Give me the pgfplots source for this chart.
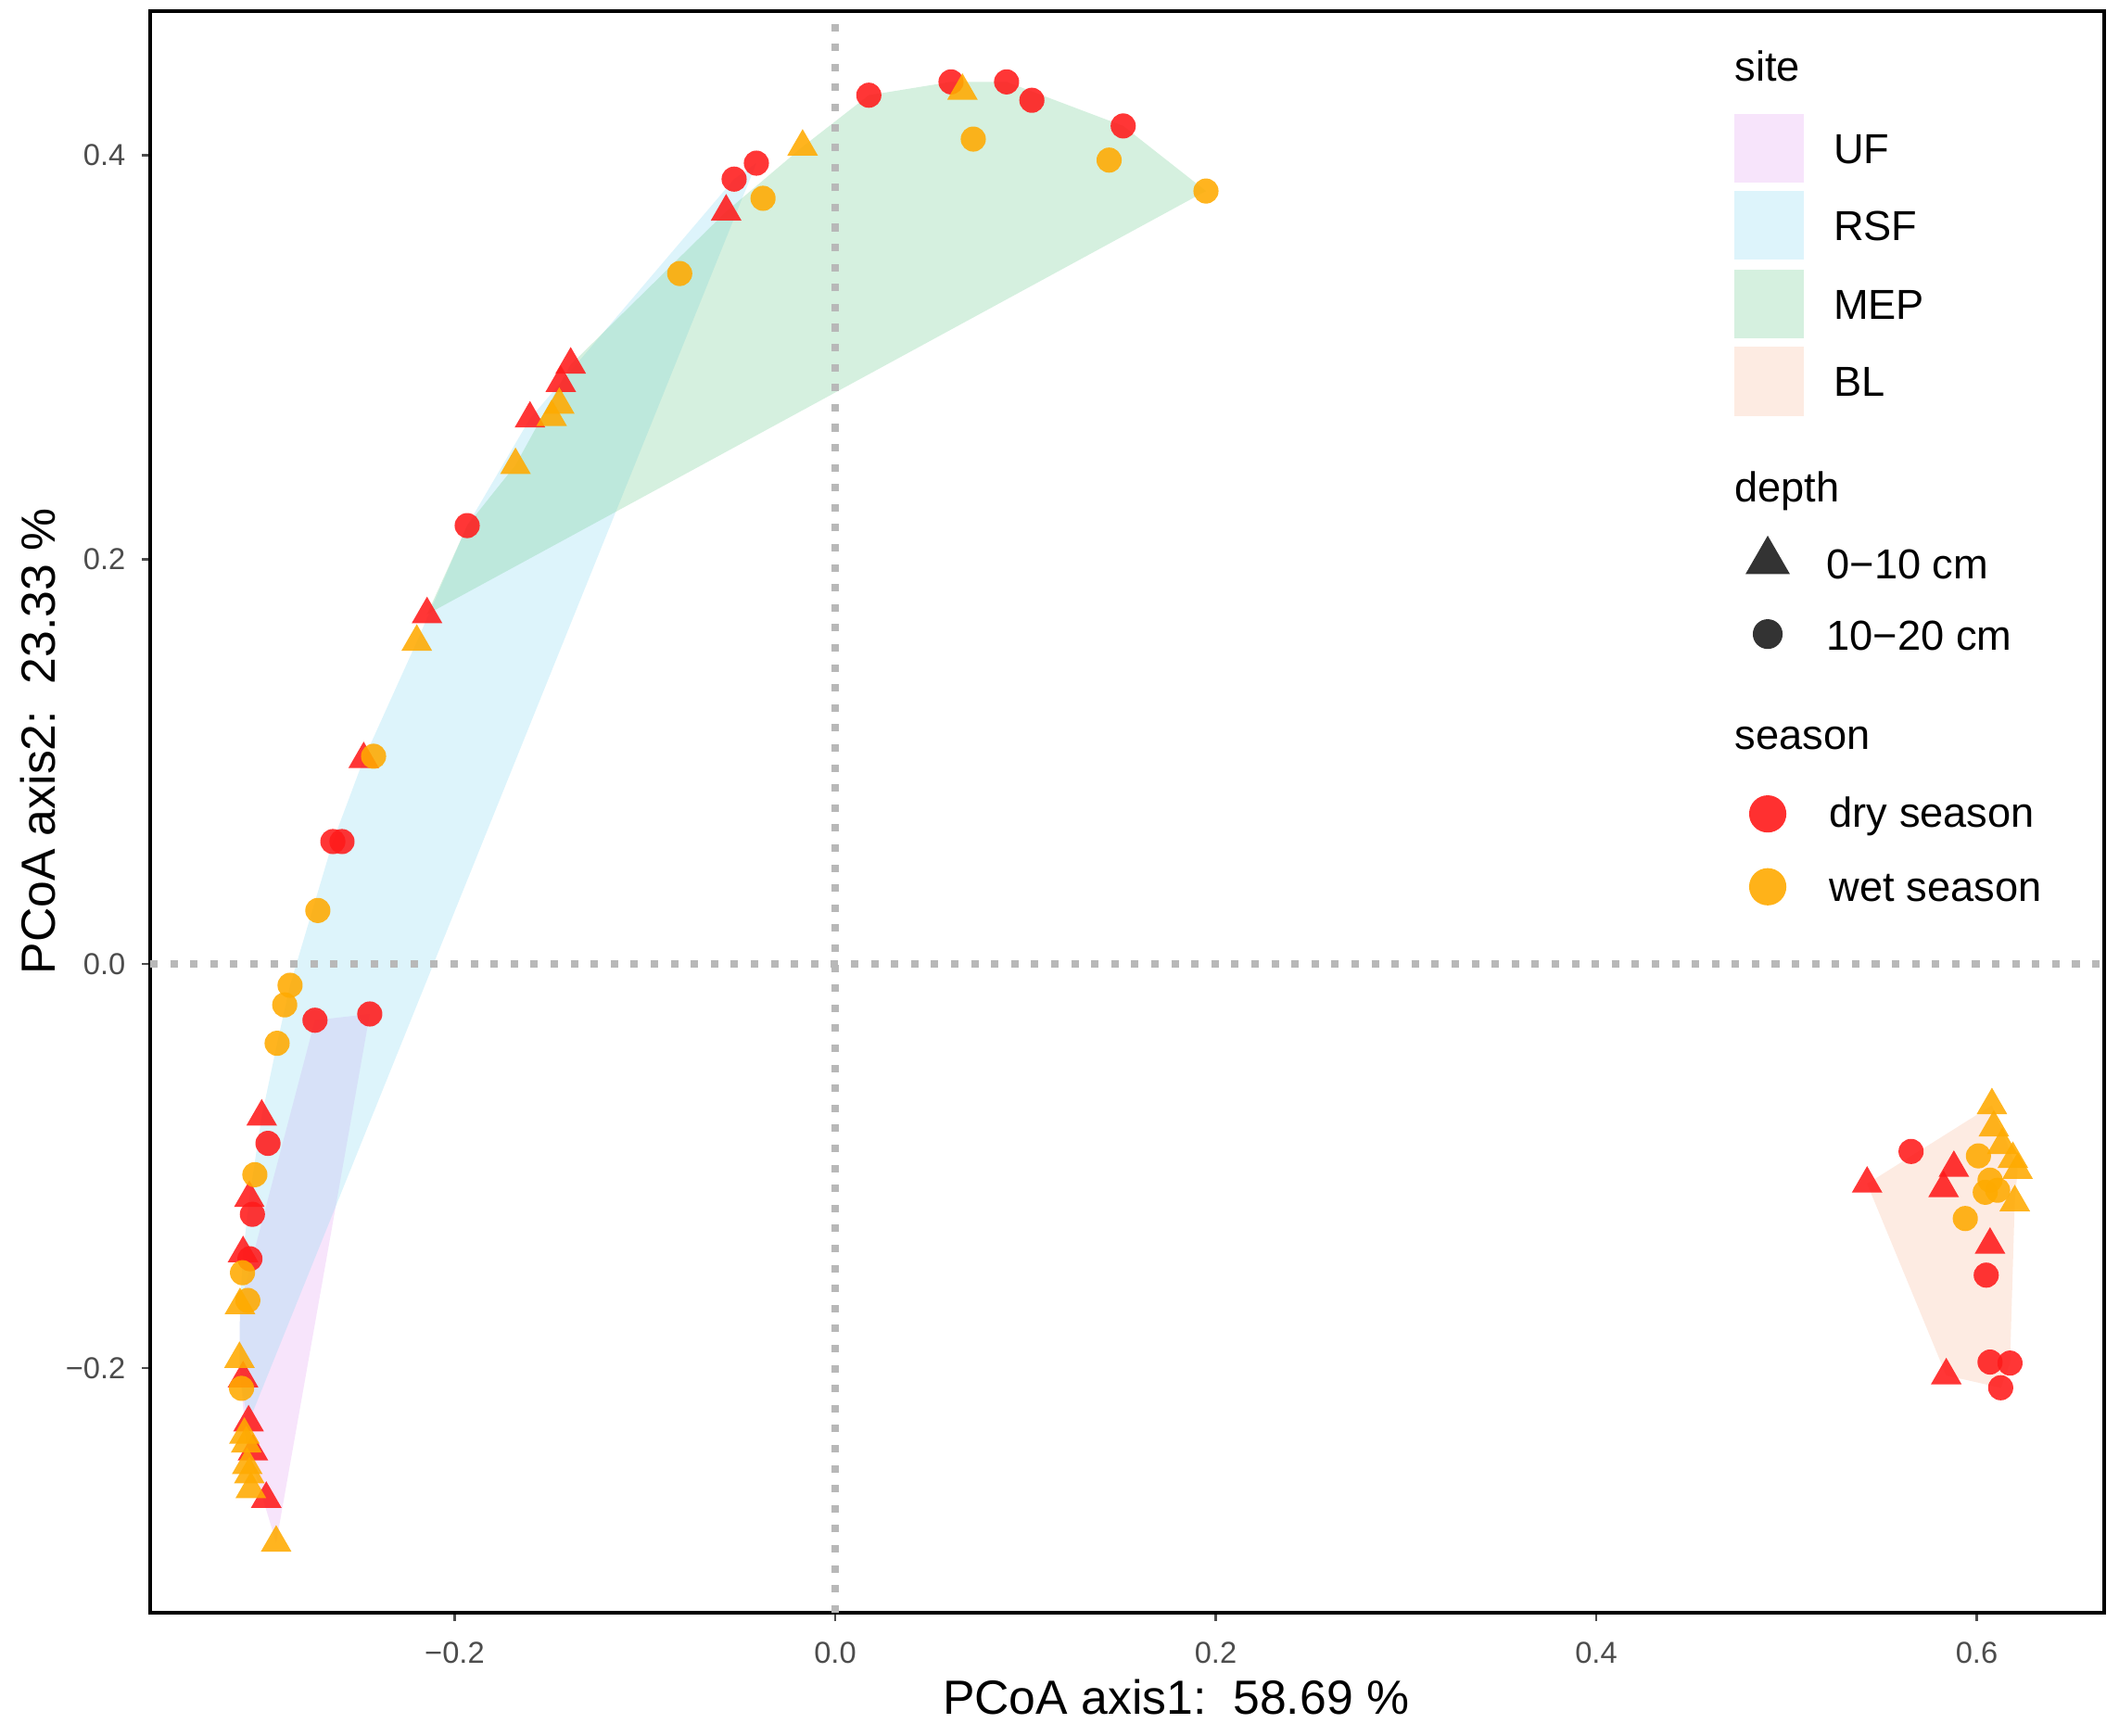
\documentclass[border=0pt]{standalone}
\usepackage{pgfplots}
\usepackage{pgfplotstable}
\pgfplotsset{compat=1.18}
\usepackage{fontspec}
\setmainfont{Liberation Sans}
\definecolor{ufc}{HTML}{E4A5F2}
\definecolor{rsfc}{HTML}{8EDAF2}
\definecolor{mepc}{HTML}{73CD94}
\definecolor{blc}{HTML}{F8BC9E}
\definecolor{dryc}{HTML}{FF1A1A}
\definecolor{wetc}{HTML}{FFAA00}
\definecolor{keyc}{HTML}{333333}

% ---- hulls ----
\pgfplotstableread{
x y
-0.2446 -0.0248
-0.2734 -0.0279
-0.3128 -0.1689
-0.3131 -0.1955
-0.3120 -0.2100
-0.3095 -0.2373
-0.2938 -0.2864
}\hullUF
\pgfplotstableread{
x y
-0.0414 0.3961
-0.0531 0.3882
-0.1604 0.2697
-0.1934 0.2168
-0.2199 0.1593
-0.2478 0.1012
-0.2640 0.0605
-0.2865 -0.0106
-0.2933 -0.0393
-0.3014 -0.0756
-0.3079 -0.1159
-0.3112 -0.1432
-0.3128 -0.1689
-0.3131 -0.1955
-0.3120 -0.2100
-0.3083 -0.2269
}\hullRSF
\pgfplotstableread{
x y
-0.2145 0.1729
-0.1934 0.2168
-0.1680 0.2467
-0.1390 0.2964
-0.0573 0.3721
-0.0171 0.4042
0.0177 0.4297
0.0609 0.4363
0.0901 0.4363
0.1514 0.4145
0.1949 0.3823
}\hullMEP
\pgfplotstableread{
x y
0.5424 -0.1088
0.6080 -0.0700
0.6215 -0.1020
0.6200 -0.1180
0.6175 -0.1975
0.6126 -0.2097
0.5840 -0.2036
}\hullBL

% ---- points ----
\pgfplotstableread{
x y
-0.0573 0.3721
-0.1390 0.2964
-0.1442 0.2873
-0.1604 0.2697
-0.2145 0.1729
-0.2478 0.1012
-0.3014 -0.0756
-0.3079 -0.1159
-0.3112 -0.1432
-0.3112 -0.2051
-0.3083 -0.2269
-0.3060 -0.2413
-0.2990 -0.2647
0.5424 -0.1088
0.5880 -0.1010
0.5826 -0.1110
0.6070 -0.1390
0.5840 -0.2036
}\drytri
\pgfplotstableread{
x y
0.0177 0.4297
0.0609 0.4363
0.0901 0.4363
0.1034 0.4272
0.1514 0.4145
-0.0414 0.3961
-0.0531 0.3882
-0.1934 0.2168
-0.2640 0.0605
-0.2592 0.0605
-0.2734 -0.0279
-0.2446 -0.0248
-0.2981 -0.0888
-0.3063 -0.1239
-0.3076 -0.1459
0.5655 -0.0928
0.6050 -0.1540
0.6070 -0.1970
0.6175 -0.1975
0.6126 -0.2097
}\drycirc
\pgfplotstableread{
x y
0.0669 0.4318
-0.0171 0.4042
-0.1450 0.2765
-0.1490 0.2704
-0.1680 0.2467
-0.2199 0.1593
-0.3128 -0.1689
-0.3131 -0.1955
-0.3105 -0.2330
-0.3095 -0.2373
-0.3090 -0.2480
-0.3079 -0.2526
-0.3071 -0.2599
-0.2938 -0.2864
0.6080 -0.0700
0.6090 -0.0810
0.6134 -0.0897
0.6190 -0.0966
0.6215 -0.1020
0.6200 -0.1180
}\wettri
\pgfplotstableread{
x y
0.0726 0.4080
0.1440 0.3976
0.1949 0.3823
-0.0379 0.3787
-0.0817 0.3415
-0.2426 0.1027
-0.2719 0.0264
-0.2865 -0.0106
-0.2893 -0.0203
-0.2933 -0.0393
-0.3050 -0.1043
-0.3115 -0.1528
-0.3087 -0.1665
-0.3120 -0.2100
0.6009 -0.0950
0.6070 -0.1070
0.6045 -0.1130
0.6110 -0.1120
0.5940 -0.1260
}\wetcirc

\begin{document}
\begin{tikzpicture}
\begin{axis}[
  scale only axis,
  width=14.75cm, height=12.09cm,
  xmin=-0.360, xmax=0.667, ymin=-0.3209, ymax=0.4713,
  axis line style={black, line width=0.8pt},
  xtick={-0.2,0,0.2,0.4,0.6},
  xticklabels={−0.2,0.0,0.2,0.4,0.6},
  ytick={-0.2,0,0.2,0.4},
  yticklabels={−0.2,0.0,0.2,0.4},
  tick align=outside, tick pos=left,
  major tick length=1.8pt,
  tick style={color=black!70, line width=0.5pt},
  ticklabel style={font=\fontsize{6.5}{7}\selectfont, text=black!70},
  xticklabel style={yshift=-1pt},
  clip=false,
]
% hull polygons
\addplot[fill=ufc, fill opacity=0.3, draw=none] table {\hullUF} -- cycle;
\addplot[fill=rsfc, fill opacity=0.3, draw=none] table {\hullRSF} -- cycle;
\addplot[fill=mepc, fill opacity=0.3, draw=none] table {\hullMEP} -- cycle;
\addplot[fill=blc, fill opacity=0.3, draw=none] table {\hullBL} -- cycle;
% reference lines
\addplot[color=black!28, line width=1.5pt, dash pattern=on 1.6pt off 2.7pt] coordinates {(0,-0.3209) (0,0.4713)};
\addplot[color=black!28, line width=1.5pt, dash pattern=on 1.6pt off 2.7pt] coordinates {(-0.360,0) (0.667,0)};
% points
\addplot[only marks, color=dryc, mark=triangle*, mark size=3.8pt, mark options={draw=dryc, draw opacity=0, fill=dryc, fill opacity=0.88}] table {\drytri};
\addplot[only marks, color=dryc, mark=*, mark size=2.7pt, mark options={draw=dryc, draw opacity=0, fill=dryc, fill opacity=0.88}] table {\drycirc};
\addplot[only marks, color=wetc, mark=triangle*, mark size=3.8pt, mark options={draw=wetc, draw opacity=0, fill=wetc, fill opacity=0.88}] table {\wettri};
\addplot[only marks, color=wetc, mark=*, mark size=2.7pt, mark options={draw=wetc, draw opacity=0, fill=wetc, fill opacity=0.88}] table {\wetcirc};

% axis titles
\node[inner sep=0pt, anchor=base, font=\fontsize{10.3}{12}\selectfont] at ([yshift=-0.765cm]axis description cs:0.525,0) {PCoA axis1:\ \ 58.69 \%};
\node[inner sep=0pt, anchor=center, rotate=90, font=\fontsize{10.3}{12}\selectfont] at ([xshift=-0.85cm]axis description cs:0,0.544) {PCoA axis2:\ \ 23.33 \%};

% legend
\begin{scope}[every node/.style={inner sep=0pt, anchor=base west, font=\fontsize{9.0}{11}\selectfont}]
\node at (axis description cs:0.8105,0.9561) {site};
\fill[ufc, fill opacity=0.3] (axis description cs:0.8105,0.8928) rectangle (axis description cs:0.8465,0.9359);
\fill[rsfc, fill opacity=0.3] (axis description cs:0.8105,0.8447) rectangle (axis description cs:0.8465,0.8878);
\fill[mepc, fill opacity=0.3] (axis description cs:0.8105,0.7958) rectangle (axis description cs:0.8465,0.8388);
\fill[blc, fill opacity=0.3] (axis description cs:0.8105,0.7468) rectangle (axis description cs:0.8465,0.7907);
\node at (axis description cs:0.861,0.9046) {UF};
\node at (axis description cs:0.861,0.8565) {RSF};
\node at (axis description cs:0.861,0.8076) {MEP};
\node at (axis description cs:0.861,0.7595) {BL};
\node at (axis description cs:0.8105,0.6937) {depth};
\fill[keyc] ([shift={(90:5.5pt)}]axis description cs:0.8278,0.6565) -- ([shift={(210:5.5pt)}]axis description cs:0.8278,0.6565) -- ([shift={(330:5.5pt)}]axis description cs:0.8278,0.6565) -- cycle;
\fill[keyc] (axis description cs:0.8278,0.611) circle[radius=3.2pt];
\node at (axis description cs:0.8575,0.6456) {0−10 cm};
\node at (axis description cs:0.8575,0.6008) {10−20 cm};
\node at (axis description cs:0.8105,0.5392) {season};
\fill[dryc, fill opacity=0.9] (axis description cs:0.8278,0.4987) circle[radius=4pt];
\fill[wetc, fill opacity=0.9] (axis description cs:0.8278,0.4532) circle[radius=4pt];
\node at (axis description cs:0.859,0.4903) {dry season};
\node at (axis description cs:0.859,0.4439) {wet season};
\end{scope}
\end{axis}
\path ([shift={(-1.134cm,-0.931cm)}]current axis.south west) rectangle ([shift={(0.112cm,0.084cm)}]current axis.north east);
\end{tikzpicture}
\end{document}
